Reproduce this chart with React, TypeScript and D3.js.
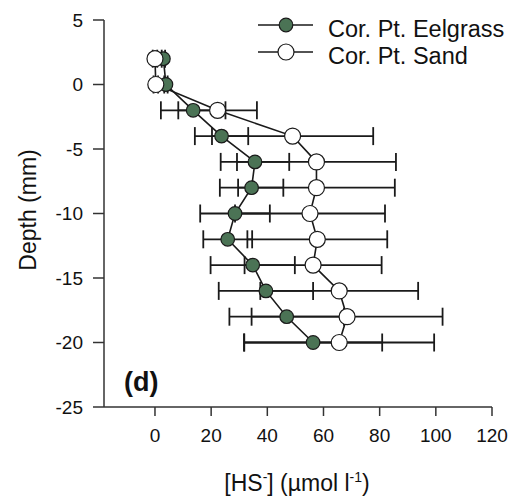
import React from "react";
import * as d3 from "d3";

const depths = [2, 0, -2, -4, -6, -8, -10, -12, -14, -16, -18, -20];
const eelgrassMean = [3.0, 3.9, 13.6, 23.7, 35.6, 34.4, 28.5, 25.9, 34.8, 39.5, 46.9, 56.3];
const eelgrassSd = [0.6, 0.6, 11.5, 9.5, 12.2, 11.3, 12.4, 8.7, 15.0, 16.8, 20.4, 24.6];
const sandMean = [0.0, 0.3, 22.3, 49.0, 57.5, 57.5, 55.2, 57.8, 56.3, 65.6, 68.4, 65.6];
const sandSd = [0.8, 0.8, 14.0, 28.7, 28.3, 27.9, 26.7, 24.9, 24.4, 28.1, 34.0, 33.8];
const xTicks = [0, 20, 40, 60, 80, 100, 120];
const yTicks = [5, 0, -5, -10, -15, -20, -25];
const seriesNames = ["Cor. Pt. Eelgrass", "Cor. Pt. Sand"];
const seriesFill = ["#4b7355", "#ffffff"];

const FONT = "'Liberation Sans', Arial, sans-serif";

export default function App() {
  const x = d3.scaleLinear().domain([-18.15, 120]).range([104, 492]);
  const y = d3.scaleLinear().domain([-25, 5]).range([407, 20]);

  const series = [
    { name: seriesNames[0], mean: eelgrassMean, sd: eelgrassSd, fill: seriesFill[0], r: 6.8 },
    { name: seriesNames[1], mean: sandMean, sd: sandSd, fill: seriesFill[1], r: 8 },
  ];

  const line = d3
    .line<[number, number]>()
    .x((d) => x(d[0]))
    .y((d) => y(d[1]));

  const cap = 9;

  return (
    <svg
      width={512}
      height={503}
      style={{ position: "absolute", left: 0, top: 0, background: "#fff" }}
      fontFamily={FONT}
    >
      <rect x={0} y={0} width={512} height={503} fill="#fff" />
      {/* axes */}
      <line x1={104} x2={104} y1={y(5)} y2={y(-25)} stroke="#333" strokeWidth={1.5} />
      <line x1={x(-18.15)} x2={x(120)} y1={y(-25)} y2={y(-25)} stroke="#333" strokeWidth={1.5} />
      {yTicks.map((t) => (
        <g key={"y" + t}>
          <line x1={93} x2={104} y1={y(t)} y2={y(t)} stroke="#333" strokeWidth={1.5} />
          <text x={83} y={y(t) + 6.5} textAnchor="end" fontSize={19} fill="#111">
            {t}
          </text>
        </g>
      ))}
      {xTicks.map((t) => (
        <g key={"x" + t}>
          <line x1={x(t)} x2={x(t)} y1={y(-25)} y2={y(-25) + 9} stroke="#333" strokeWidth={1.5} />
          <text x={x(t)} y={442} textAnchor="middle" fontSize={19} fill="#111">
            {t}
          </text>
        </g>
      ))}
      {/* axis titles */}
      <text
        transform={`translate(36,210) rotate(-90)`}
        textAnchor="middle"
        fontSize={23}
        fill="#111"
      >
        Depth (mm)
      </text>
      <text x={297} y={491} textAnchor="middle" fontSize={23} fill="#111">
        [HS<tspan fontSize={14} dy={-9}>-</tspan>
        <tspan dy={9}>] (µmol l</tspan>
        <tspan fontSize={14} dy={-9}>-1</tspan>
        <tspan dy={9}>)</tspan>
      </text>
      {/* error bars */}
      {series.map((s, si) => (
        <g key={"eb" + si} stroke="#1a1a1a" strokeWidth={1.8}>
          {depths.map((dd, i) => {
            const lo = x(s.mean[i] - s.sd[i]);
            const hi = x(s.mean[i] + s.sd[i]);
            const yy = y(dd);
            return (
              <g key={i}>
                <line x1={lo} x2={hi} y1={yy} y2={yy} />
                <line x1={lo} x2={lo} y1={yy - cap} y2={yy + cap} />
                <line x1={hi} x2={hi} y1={yy - cap} y2={yy + cap} />
              </g>
            );
          })}
        </g>
      ))}
      {/* lines */}
      {series.map((s, si) => (
        <path
          key={"ln" + si}
          d={line(depths.map((dd, i) => [s.mean[i], dd]) as [number, number][]) || ""}
          fill="none"
          stroke="#1a1a1a"
          strokeWidth={1.6}
        />
      ))}
      {/* points */}
      {series.map((s, si) => (
        <g key={"pt" + si}>
          {depths.map((dd, i) => (
            <circle
              key={i}
              cx={x(s.mean[i])}
              cy={y(dd)}
              r={s.r}
              fill={s.fill}
              stroke="#1a1a1a"
              strokeWidth={1.2}
            />
          ))}
        </g>
      ))}
      {/* panel label */}
      <text x={124} y={391} fontSize={27} fontWeight="bold" fill="#111">
        (d)
      </text>
      {/* legend */}
      {series.map((s, si) => {
        const ly = 25 + si * 27;
        return (
          <g key={"lg" + si}>
            <line x1={258} x2={313} y1={ly} y2={ly} stroke="#1a1a1a" strokeWidth={1.6} />
            <circle cx={286} cy={ly} r={s.r} fill={s.fill} stroke="#1a1a1a" strokeWidth={1.2} />
            <text x={328} y={ly + 12} fontSize={23.5} fill="#111">
              {s.name}
            </text>
          </g>
        );
      })}
    </svg>
  );
}
